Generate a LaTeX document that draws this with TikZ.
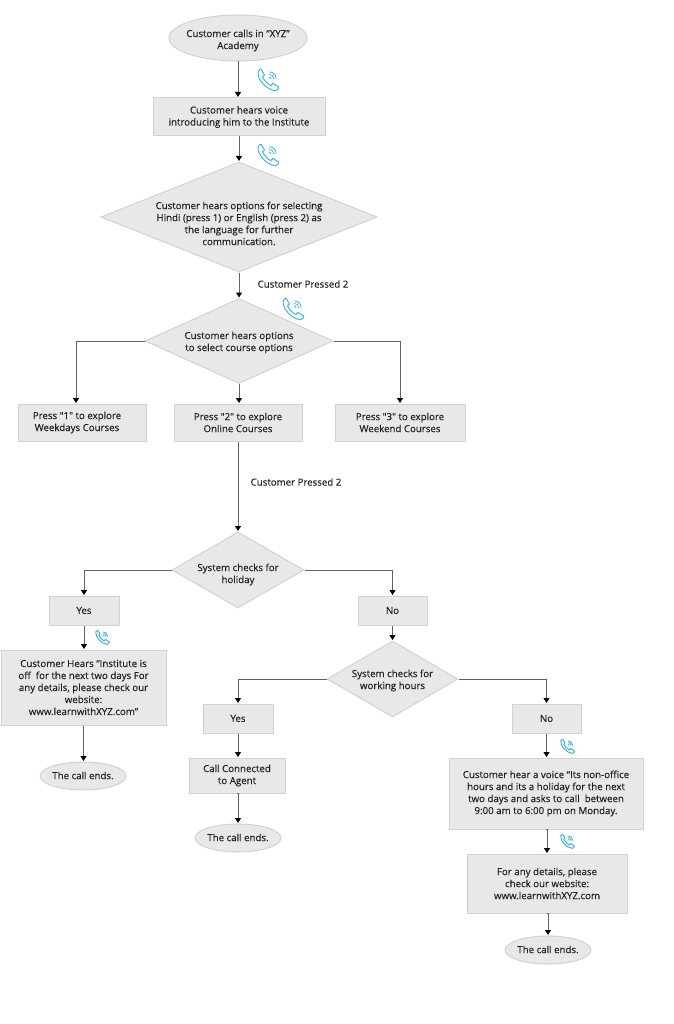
\documentclass[tikz,border=0pt]{standalone}
\usepackage{fontspec}
\newfontfamily\bodyfont[FakeBold=0.12]{Open Sans}
\usetikzlibrary{shapes.geometric,arrows.meta}
\definecolor{boxfill}{HTML}{E8E8E8}
\definecolor{boxline}{HTML}{D2D2D2}
\definecolor{txt}{HTML}{202020}
\definecolor{iconblue}{HTML}{35B3E6}
\newcommand{\dtext}[3]{\makebox[0pt]{\smash{\raisebox{#3}{\parbox[c]{#1}{\centering #2}}}}}
\newcommand{\stext}[3]{\makebox[0pt]{\hspace{#3}\smash{\raisebox{-2.5pt}{\parbox[c]{#1}{\centering #2}}}}}
\tikzset{
  x=1pt,y=-1pt,
  every node/.style={font=\fontsize{9.7}{12}\bodyfont,text=txt,align=center,inner sep=0pt},
  basebox/.style={draw=boxline,fill=boxfill,line width=1pt},
  procbox/.style={basebox,rectangle,minimum width=#1},
  termin/.style={basebox,ellipse,minimum width=86pt,minimum height=28pt},
  decide/.style={basebox,diamond,minimum width=#1},
  flow/.style={draw=black!62,line width=1pt,-{Triangle[width=6pt,length=5pt,black]},shorten >=0.5pt},
  phoneicon/.pic={
    \draw[iconblue,line width=0.95pt,line join=round,line cap=round]
      (1.2,2.6) .. controls (2,1) and (3,.3) .. (4,.3) -- (7.5,5.8) -- (5.6,8)
      .. controls (7,11) and (10.5,15) .. (13.8,16.6) -- (16,14.4) -- (21.8,18)
      .. controls (21.8,19.5) and (20.5,21.7) .. (18.5,21.7)
      .. controls (10,21) and (0,11) .. (1.2,2.6) -- cycle;
    \draw[iconblue,line width=0.8pt,line cap=round]
      (12.5,8) .. controls (13.5,8) and (14,8.6) .. (14,9.6)
      (12.5,5.5) .. controls (15,5.5) and (16.5,7) .. (16.5,9.6)
      (12.5,3) .. controls (16.5,3) and (19,5.5) .. (19,9.6);
  }
}
\begin{document}
\begin{tikzpicture}
\useasboundingbox (0,0) rectangle (673,1024);
\fill[white] (0,0) rectangle (673,1024);

\node[termin,minimum width=138pt,minimum height=46pt] (start) at (238,38) {\dtext{130pt}{Customer calls in “XYZ”\\Academy}{-5pt}};
\node[procbox=172pt,minimum height=38pt] (intro) at (239,117) {Customer hears voice\\introducing him to the Institute};
\node[decide=276pt,minimum height=110pt] (lang) at (239,217) {\dtext{240pt}{Customer hears options for selecting\\Hindi (press 1) or English (press 2) as\\the language for further\\communication.}{-9pt}};
\node[decide=188pt,minimum height=85pt] (course) at (239,341) {\dtext{170pt}{Customer hears options\\to select course options}{-4pt}};
\node[procbox=128pt,minimum height=37pt] (p1) at (82,422.5) {\stext{120pt}{Press "1" to explore\\Weekdays Courses}{-10pt}};
\node[procbox=128pt,minimum height=37pt] (p2) at (238,422.5) {Press "2" to explore\\Online Courses};
\node[procbox=130pt,minimum height=37pt] (p3) at (400,422.5) {Press "3" to explore\\Weekend Courses};
\node[decide=132pt,minimum height=76pt] (hol) at (238,570) {\dtext{120pt}{System checks for\\holiday}{-7pt}};
\node[procbox=70pt,minimum height=29pt] (yes1) at (84,610.5) {Yes};
\node[procbox=69pt,minimum height=29pt] (no1) at (392.5,610.5) {No};
\node[procbox=165pt,minimum height=75pt] (off) at (83.5,687.5) {Customer Hears “Institute is\\off\ \ for the next two days For\\any details, please check our\\website:\\www.learnwithXYZ.com”};
\node[termin] (end1) at (83,776) {\dtext{80pt}{The call ends.}{-2pt}};
\node[decide=131pt,minimum height=76pt] (work) at (392.5,679) {\dtext{120pt}{System checks for\\working hours}{-4pt}};
\node[procbox=70pt,minimum height=29pt] (yes2) at (238,718.5) {Yes};
\node[procbox=69pt,minimum height=29pt] (no2) at (546.5,718.5) {No};
\node[procbox=96pt,minimum height=35pt] (agent) at (237,775.5) {Call Connected\\to Agent};
\node[termin] (end2) at (238,838) {\dtext{80pt}{The call ends.}{-2pt}};
\node[procbox=194pt,minimum height=71pt] (nonoff) at (546,793.5) {Customer hear a voice “Its non-office\\hours and its a holiday for the next\\two days and asks to call\ \ between\\9:00 am to 6:00 pm on Monday.};
\node[procbox=160pt,minimum height=59pt] (site) at (547,883.5) {For any details, please\\check our website:\\www.learnwithXYZ.com};
\node[termin] (end3) at (548,950) {\dtext{80pt}{The call ends.}{-2pt}};

\node (lab1) at (303,284) {Customer Pressed 2};
\node (lab2) at (296,482) {Customer Pressed 2};

\draw[flow] (start.south) -- (start.south |- intro.north);
\draw[flow] (intro.south) -- (lang.north);
\draw[flow] (lang.south) -- (course.north);
\draw[flow] (course.west) -| (p1.north -| 76,0);
\draw[flow] (course.south) -- (course.south |- p2.north);
\draw[flow] (course.east) -| (p3.north);
\draw[flow] (p2.south) -- (p2.south |- hol.north);
\draw[flow] (hol.west) -| (yes1.north);
\draw[flow] (hol.east) -| (no1.north);
\draw[flow] (yes1.south) -- (yes1.south |- off.north);
\draw[flow] (off.south) -- (off.south |- end1.north);
\draw[flow] (no1.south) -- (no1.south |- work.north);
\draw[flow] (work.west) -| (yes2.north);
\draw[flow] (work.east) -| (no2.north);
\draw[flow] (yes2.south) -- (yes2.south |- agent.north);
\draw[flow] (agent.south) -- (agent.south -| end2.north) -- (end2.north);
\draw[flow] (no2.south) -- (no2.south |- nonoff.north);
\draw[flow] (nonoff.south) -- (nonoff.south -| site.north) -- (site.north);
\draw[flow] (site.south) -- (site.south -| end3.north) -- (end3.north);

\pic at (257,69) {phoneicon};
\pic at (257,144) {phoneicon};
\pic at (282,298) {phoneicon};
\pic[scale=.66] at (95,630) {phoneicon};
\pic[scale=.66] at (560,739) {phoneicon};
\pic[scale=.66] at (560,834) {phoneicon};
\end{tikzpicture}
\end{document}
